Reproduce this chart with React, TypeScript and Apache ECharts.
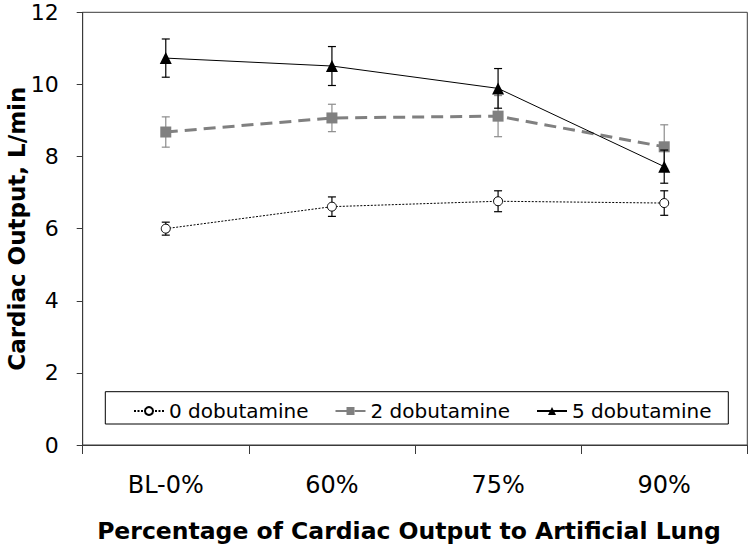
import React, { useEffect, useRef } from "react";
import * as echarts from "echarts";

const categories = ["BL-0%", "60%", "75%", "90%"];
const seriesNames = ["0 dobutamine", "2 dobutamine", "5 dobutamine"];
const dob0 = [6.0, 6.61, 6.76, 6.71];
const dob0Err = [0.18, 0.27, 0.29, 0.34];
const dob2 = [8.68, 9.07, 9.12, 8.27];
const dob2Err = [0.42, 0.38, 0.57, 0.61];
const dob5 = [10.73, 10.51, 9.89, 7.72];
const dob5Err = [0.53, 0.54, 0.55, 0.46];
const yTicks = { min: 0, max: 12, interval: 2 };

const FONT = "DejaVu Sans";

function errData(vals: number[], errs: number[]) {
  return vals.map((v, i) => [i, v - errs[i], v + errs[i]]);
}

function errSeries(vals: number[], errs: number[], color: string, z: number) {
  return {
    type: "custom",
    name: "err",
    z,
    silent: true,
    data: errData(vals, errs),
    encode: { x: 0, y: [1, 2] },
    renderItem: (params: any, api: any) => {
      const x = api.value(0);
      const top = api.coord([x, api.value(2)]);
      const bot = api.coord([x, api.value(1)]);
      const w = 4;
      const st = { stroke: color, lineWidth: 1.2 };
      return {
        type: "group",
        children: [
          { type: "line", shape: { x1: top[0], y1: top[1], x2: bot[0], y2: bot[1] }, style: st },
          { type: "line", shape: { x1: top[0] - w, y1: top[1], x2: top[0] + w, y2: top[1] }, style: st },
          { type: "line", shape: { x1: bot[0] - w, y1: bot[1], x2: bot[0] + w, y2: bot[1] }, style: st },
        ],
      };
    },
  };
}

export default function App() {
  const ref = useRef<HTMLDivElement>(null);
  useEffect(() => {
    document.body.style.margin = "0";
    if (!ref.current) return;
    const chart = echarts.init(ref.current, null, { renderer: "svg" });
    const axisColor = "#3a3a3a";
    chart.setOption({
      animation: false,
      backgroundColor: "#ffffff",
      grid: {
        left: 82.7,
        right: 2.7,
        top: 12.3,
        bottom: 104,
        containLabel: false,
        outerBoundsMode: "none",
        show: true,
        borderColor: axisColor,
        borderWidth: 1,
      },
      legend: {
        data: seriesNames,
        left: 128,
        top: 396,
        itemWidth: 30,
        itemHeight: 10,
        itemGap: 26,
        textStyle: { fontFamily: FONT, fontSize: 20, color: "#000" },
      },
      graphic: [
        {
          type: "rect",
          shape: { x: 105.3, y: 391.7, width: 623, height: 32.3 },
          style: { fill: "none", stroke: "#000", lineWidth: 1 },
          z: 100,
          silent: true,
        },
      ],
      xAxis: {
        type: "category",
        data: categories,
        boundaryGap: true,
        name: "Percentage of Cardiac Output to Artificial Lung",
        nameLocation: "middle",
        nameGap: 74,
        nameMoveOverlap: false,
        nameTextStyle: {
          fontFamily: FONT,
          fontSize: 23.5,
          fontWeight: "bold",
          color: "#000",
          padding: [0, 12, 0, 0],
        },
        axisLine: { lineStyle: { color: axisColor, width: 1 } },
        axisTick: { show: true, inside: false, length: 9, lineStyle: { color: axisColor } },
        axisLabel: { margin: 28, fontFamily: FONT, fontSize: 24, color: "#000" },
        splitLine: { show: false },
      },
      yAxis: {
        type: "value",
        min: yTicks.min,
        max: yTicks.max,
        interval: yTicks.interval,
        name: "Cardiac Output, L/min",
        nameLocation: "middle",
        nameRotate: 90,
        nameGap: 54,
        nameMoveOverlap: false,
        nameTextStyle: { fontFamily: FONT, fontSize: 23, fontWeight: "bold", color: "#000" },
        axisLine: { show: true, lineStyle: { color: axisColor, width: 1 } },
        axisTick: { show: true, inside: false, length: 6, lineStyle: { color: axisColor } },
        axisLabel: { margin: 24, fontFamily: FONT, fontSize: 22, color: "#000" },
        splitLine: { show: false },
      },
      series: [
        errSeries(dob0, dob0Err, "#000000", 1),
        errSeries(dob2, dob2Err, "#8c8c8c", 3),
        errSeries(dob5, dob5Err, "#000000", 5),
        {
          type: "line",
          name: seriesNames[0],
          data: dob0,
          z: 2,
          symbol: "circle",
          symbolSize: 9,
          itemStyle: { color: "#ffffff", borderColor: "#000", borderWidth: 1 },
          lineStyle: { color: "#000", width: 1, type: [2, 1.5] },
        },
        {
          type: "line",
          name: seriesNames[1],
          data: dob2,
          z: 4,
          symbol: "rect",
          symbolSize: 11,
          itemStyle: { color: "#808080", borderWidth: 0 },
          lineStyle: { color: "#808080", width: 3, type: [12, 7] },
        },
        {
          type: "line",
          name: seriesNames[2],
          data: dob5,
          z: 6,
          symbol: "triangle",
          symbolSize: 12,
          itemStyle: { color: "#000", borderWidth: 0 },
          lineStyle: { color: "#000", width: 1 },
        },
      ],
    });
    return () => chart.dispose();
  }, []);
  return <div ref={ref} style={{ width: 750, height: 549 }} />;
}
